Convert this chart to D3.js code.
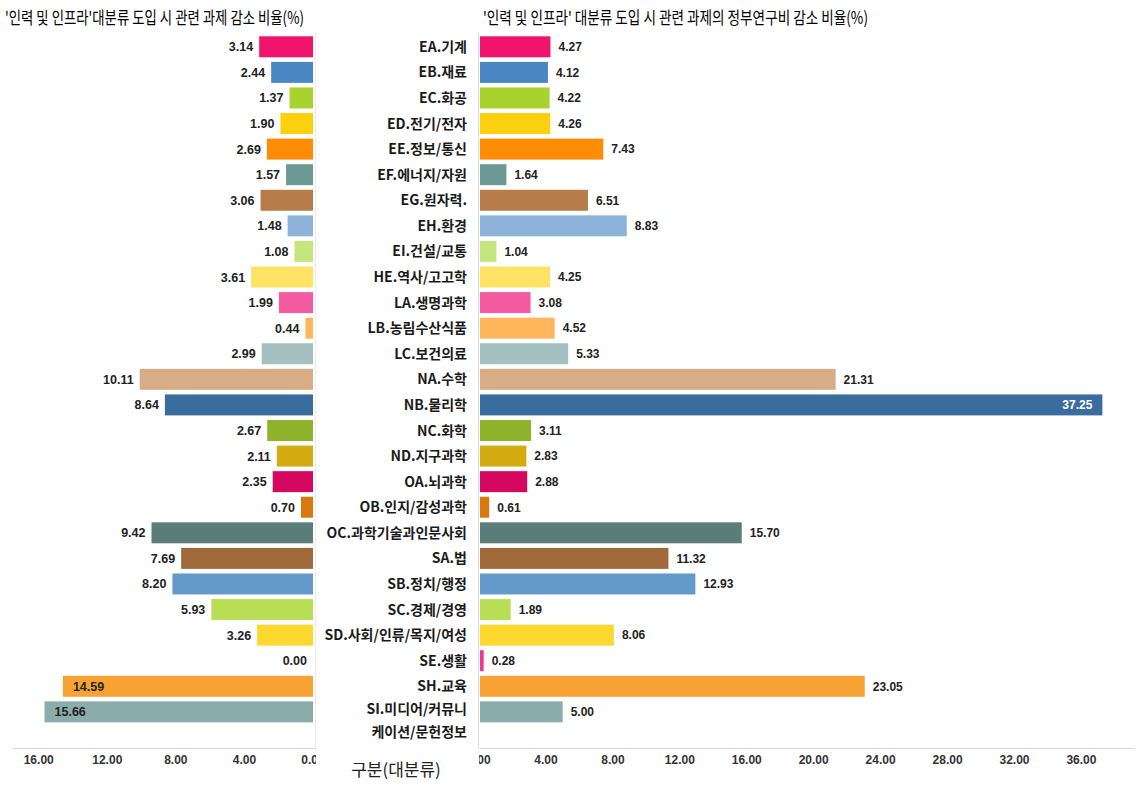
<!DOCTYPE html>
<html><head><meta charset="utf-8">
<script src="https://cdn.jsdelivr.net/npm/d3@7"></script>
<style>
body{margin:0;background:#fff;}
svg{display:block;}
text{font-family:"Liberation Sans",Arial,sans-serif;}
.kr{font-family:"Noto Sans CJK KR","Noto Sans",sans-serif;}
</style></head>
<body><svg id="c" width="1141" height="786"></svg>
<script>
const categories = ["EA.기계","EB.재료","EC.화공","ED.전기/전자","EE.정보/통신","EF.에너지/자원","EG.원자력.","EH.환경","EI.건설/교통","HE.역사/고고학","LA.생명과학","LB.농림수산식품","LC.보건의료","NA.수학","NB.물리학","NC.화학","ND.지구과학","OA.뇌과학","OB.인지/감성과학","OC.과학기술과인문사회","SA.법","SB.정치/행정","SC.경제/경영","SD.사회/인류/목지/여성","SE.생활","SH.교육","SI.미디어/커뮤니|케이션/문헌정보"];
const taskReduction = [3.14,2.44,1.37,1.90,2.69,1.57,3.06,1.48,1.08,3.61,1.99,0.44,2.99,10.11,8.64,2.67,2.11,2.35,0.70,9.42,7.69,8.20,5.93,3.26,0.00,14.59,15.66];
const fundReduction = [4.27,4.12,4.22,4.26,7.43,1.64,6.51,8.83,1.04,4.25,3.08,4.52,5.33,21.31,37.25,3.11,2.83,2.88,0.61,15.70,11.32,12.93,1.89,8.06,0.28,23.05,5.00];
const colors = ["#F0146C","#4A86C4","#A8D22E","#FAD00F","#FF8C05","#6A9A93","#B87C4A","#8DB3DA","#C5E67C","#FDE264","#F55BA0","#FDB65C","#A3BFC0","#D7AD88","#3A6D9E","#8DB42A","#D4AB10","#D5075F","#D9780E","#5A7D79","#A0693A","#6499CB","#B8DE56","#FCD82E","#EC3A8C","#F9A234","#8AACAA"];
const leftTicks = [0,4,8,12,16];
const rightTicks = [0,4,8,12,16,20,24,28,32,36];
const leftTitle = "'인력 및 인프라'대분류 도입 시 관련 과제 감소 비율(%)";
const rightTitle = "'인력 및 인프라' 대분류 도입 시 관련 과제의 정부연구비 감소 비율(%)";
const axisTitle = "구분(대분류)";

const svg = d3.select("#c");
const idx = d3.range(categories.length);
const y = d3.scaleBand().domain(idx).range([34, 34 + 27*25.58]).paddingInner(0.18).paddingOuter(0.09);
const xL = d3.scaleLinear().domain([0, 17.5]).range([313, 13]);
const xR = d3.scaleLinear().domain([0, 39.2]).range([479, 1135]);
const axisY = 748;

// titles
svg.append("text").attr("class","kr").attr("x",5).attr("y",24).attr("font-size",17).attr("fill","#000")
  .attr("textLength",299).attr("lengthAdjust","spacingAndGlyphs").text(leftTitle);
svg.append("text").attr("class","kr").attr("x",483).attr("y",24).attr("font-size",17).attr("fill","#000")
  .attr("textLength",385).attr("lengthAdjust","spacingAndGlyphs").text(rightTitle);

// vertical panel lines
svg.append("line").attr("x1",315.5).attr("x2",315.5).attr("y1",y(0)-4).attr("y2",axisY).attr("stroke","#ececec");
svg.append("line").attr("x1",478.5).attr("x2",478.5).attr("y1",y(0)-4).attr("y2",axisY).attr("stroke","#dcdcdc");

// axes
svg.append("defs").html('<clipPath id="cl"><rect x="0" y="740" width="316" height="40"/></clipPath><clipPath id="cr"><rect x="479" y="740" width="662" height="40"/></clipPath>');
const gL = svg.append("g").attr("transform",`translate(0,${axisY})`)
  .call(d3.axisBottom(xL).tickValues(leftTicks).tickSize(0).tickFormat(d3.format(".2f")));
const gR = svg.append("g").attr("transform",`translate(0,${axisY})`)
  .call(d3.axisBottom(xR).tickValues(rightTicks).tickSize(0).tickFormat(d3.format(".2f")));
[gL,gR].forEach(g=>{
  g.select(".domain").attr("stroke","#d9d9d9");
  g.selectAll("text").attr("font-family","'Liberation Sans',Arial,sans-serif").attr("font-size",12)
   .attr("font-weight","bold").attr("fill","#333").attr("dy","1.05em");
});
gL.select(".domain").attr("d",`M13,0.5H316`);
gR.select(".domain").attr("d",`M478,0.5H1135`);
gL.attr("transform",null).attr("clip-path","url(#cl)");
gL.selectAll(".tick").attr("transform",d=>`translate(${xL(d)},${axisY})`);
gL.select(".domain").attr("transform",`translate(0,${axisY})`);
gR.attr("transform",null).attr("clip-path","url(#cr)");
gR.selectAll(".tick").attr("transform",d=>`translate(${xR(d)},${axisY})`);
gR.select(".domain").attr("transform",`translate(0,${axisY})`);

// left bars
svg.append("g").selectAll("rect").data(idx).join("rect")
  .attr("x",i=>xL(taskReduction[i])).attr("y",i=>y(i))
  .attr("width",i=>xL(0)-xL(taskReduction[i])).attr("height",y.bandwidth())
  .attr("fill",i=>colors[i]);
svg.append("g").selectAll("text").data(idx).join("text")
  .attr("x",i=>taskReduction[i]>12 ? xL(taskReduction[i])+10 : xL(taskReduction[i])-6)
  .attr("y",i=>y(i)+y.bandwidth()/2).attr("dy","0.36em")
  .attr("text-anchor",i=>taskReduction[i]>12 ? "start":"end")
  .attr("font-size",12.5).attr("font-weight","bold").attr("fill","#222")
  .text(i=>d3.format(".2f")(taskReduction[i]));

// right bars
svg.append("g").selectAll("rect").data(idx).join("rect")
  .attr("x",xR(0)+1).attr("y",i=>y(i))
  .attr("width",i=>xR(fundReduction[i])-xR(0)-1).attr("height",y.bandwidth())
  .attr("fill",i=>colors[i]);
svg.append("g").selectAll("text").data(idx).join("text")
  .attr("x",i=>fundReduction[i]>30 ? xR(fundReduction[i])-10 : xR(fundReduction[i])+8)
  .attr("y",i=>y(i)+y.bandwidth()/2).attr("dy","0.36em")
  .attr("text-anchor",i=>fundReduction[i]>30 ? "end":"start")
  .attr("font-size",12).attr("font-weight","bold").attr("fill",i=>fundReduction[i]>30?"#fff":"#222")
  .text(i=>d3.format(".2f")(fundReduction[i]));

// category labels
const lab = svg.append("g").selectAll("text").data(idx).join("text").attr("class","kr")
  .attr("x",467).attr("text-anchor","end").attr("font-size",14).attr("font-weight","bold").attr("fill","#1a1a1a")
  .attr("y",i=>y(i)+y.bandwidth()/2 + (categories[i].includes("|") ? -3 : 0));
lab.each(function(i){
  const parts = categories[i].split("|");
  const t = d3.select(this);
  parts.forEach((p,k)=>t.append("tspan").attr("x",467).attr("dy",k===0?"0.36em":"23px").text(p));
});

// axis title
svg.append("text").attr("class","kr").attr("x",396).attr("y",776).attr("text-anchor","middle")
  .attr("font-size",17).attr("fill","#222").text(axisTitle);
</script></body></html>
